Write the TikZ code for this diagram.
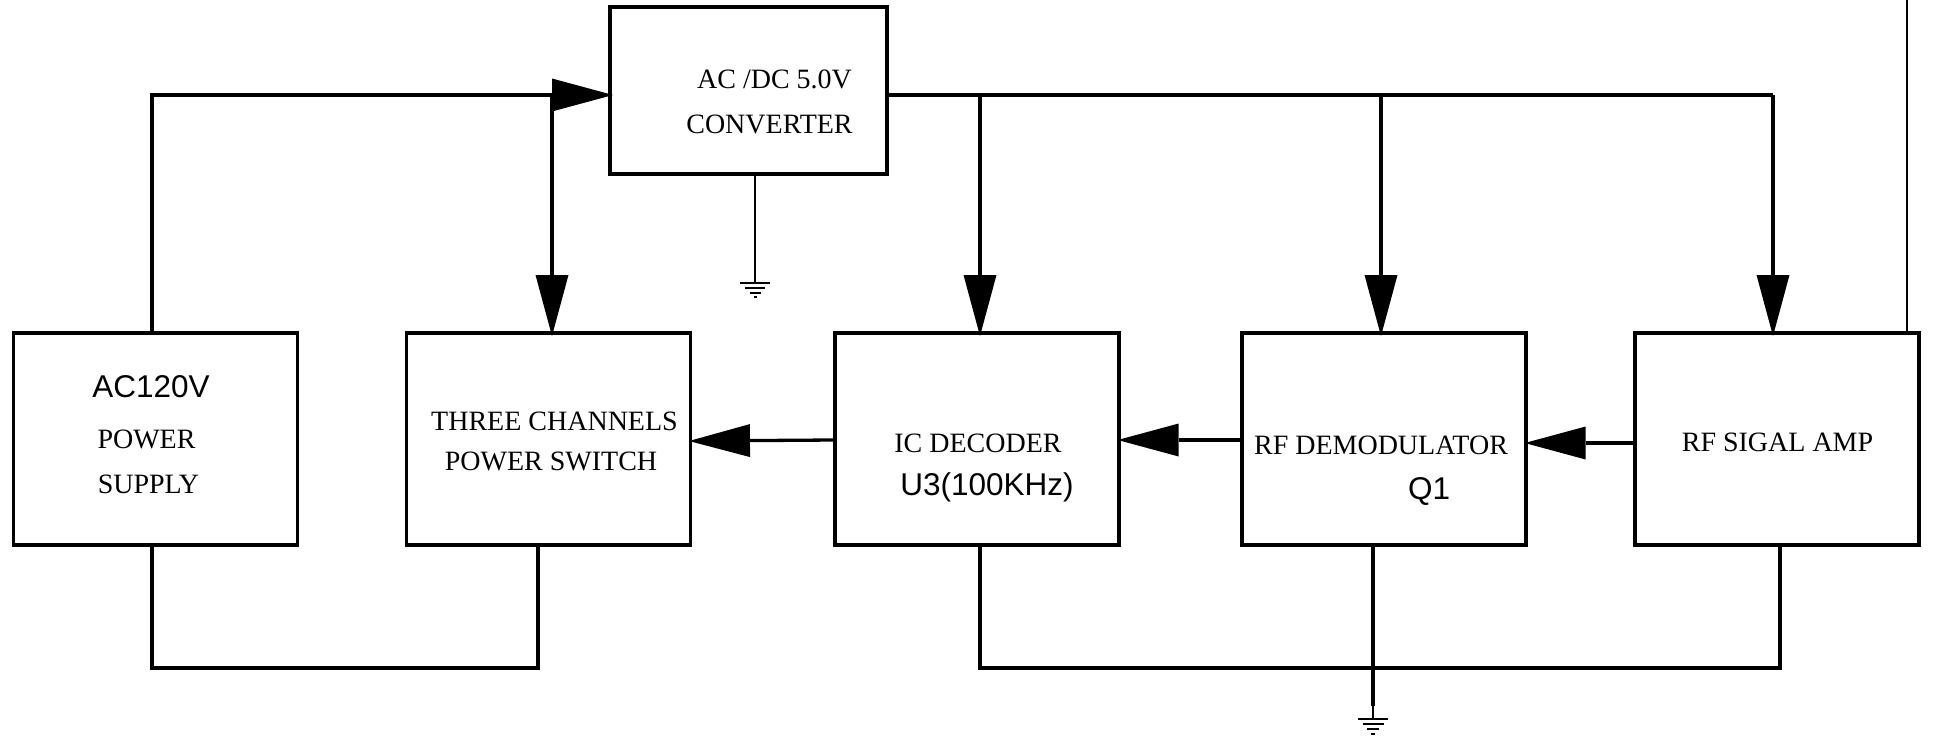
\documentclass[tikz,border=0pt]{standalone}
\usepackage{fontspec}
\setmainfont{Liberation Serif}
\newfontfamily\arialf{Liberation Sans}
\usetikzlibrary{arrows.meta}
\begin{document}
\begin{tikzpicture}[x=1pt,y=-1pt,
  blk/.style={draw,line width=3.3pt,minimum width=284pt,minimum height=212pt,inner sep=0pt,anchor=center},
  wire/.style={line width=3.3pt},
  arr/.style={wire,shorten >=-3pt,-{Triangle[length=61pt,width=33pt,line width=0pt]}},
  lbl/.style={font=\fontsize{28}{30}\selectfont,inner sep=0pt,anchor=base},
  slbl/.style={font=\arialf\fontsize{31.5}{34}\selectfont,inner sep=0pt,anchor=base},
  gnd/.style={line width=1.2pt},
  thin/.style={line width=1.3pt}]
\useasboundingbox[fill=white] (0,0) rectangle (1933,736);

% blocks
\node[blk,minimum width=277pt,minimum height=167pt] (conv) at (748.5,90.5) {};
\node[blk] (ac)  at (155.5,439) {};
\node[blk] (sw)  at (548.3,439) {};
\node[blk] (dec) at (977,439) {};
\node[blk] (dem) at (1384,439) {};
\node[blk] (amp) at (1777,439) {};

% labels
\node[lbl] (t1) at (774.5,88) {AC /DC 5.0V};
\node[lbl] (t2) at (769.5,133) {CONVERTER};
\node[slbl] (t3) at (151,397) {AC120V};
\node[lbl] (t4) at (146.5,448) {POWER};
\node[lbl] (t5) at (148.5,493) {SUPPLY};
\node[lbl] (t6) at (554.5,430) {THREE CHANNELS};
\node[lbl] (t7) at (551,470) {POWER SWITCH};
\node[lbl] (t8) at (978,452) {IC DECODER};
\node[slbl] (t9) at (987,495) {U3(100KHz)};
\node[lbl] (t10) at (1381,454) {RF DEMODULATOR};
\node[slbl] (t11) at (1429,499) {Q1};
\node[lbl] (t12) at (1777.5,451) {RF SIGAL AMP};

% coordinates
\coordinate (acT) at (152,333);
\coordinate (cL) at (610,95);
\coordinate (cR) at (887,95);
\coordinate (swT) at (552,333);
\coordinate (decT) at (980,333);
\coordinate (demT) at (1381,333);
\coordinate (ampT) at (1773,333);
\coordinate (cB) at (755,174);
\coordinate (g1) at (755,270);
\coordinate (g1b) at (755,283);
\coordinate (acB) at (152,545);
\coordinate (swB) at (538,545);
\coordinate (decB) at (980,545);
\coordinate (ampB) at (1780,545);
\coordinate (demB) at (1373,545);
\coordinate (g2) at (1373,706);
\coordinate (g2b) at (1373,719);
\coordinate (tl) at (1907,0);
\coordinate (tlb) at (1907,333);

% top wiring
\draw[arr] (acT) |- (cL);
\draw[arr] (swT |- cL) -- (swT);
\draw[wire] (cR) -- (ampT |- cR);
\draw[arr] (decT |- cR) -- (decT);
\draw[arr] (demT |- cR) -- (demT);
\draw[arr] (ampT |- cR) -- (ampT);

% signal arrows
\draw[arr] (dec.west |- 0,440) -- (sw.east |- 0,441);
\draw[arr] (dem.west |- 0,440) -- (dec.east |- 0,440);
\draw[arr] (amp.west |- 0,443) -- (dem.east |- 0,443);

% bottom wiring
\draw[wire] (acB) -- (acB |- 0,668) -- (swB |- 0,668) -- (swB);
\draw[wire] (decB) -- (decB |- 0,668) -- (ampB |- 0,668) -- (ampB);
\draw[wire] (demB) -- (g2);

% grounds
\draw[wire,line width=2.6pt] (cB) -- (g1);
\draw[gnd] (g1) -- (g1b);
\draw[gnd] ([xshift=-15pt]g1b) -- ([xshift=15pt]g1b);
\draw[gnd] ([xshift=-10pt,yshift=-5pt]g1b) -- ([xshift=10pt,yshift=-5pt]g1b);
\draw[gnd] ([xshift=-5.5pt,yshift=-10pt]g1b) -- ([xshift=5.5pt,yshift=-10pt]g1b);
\draw[gnd] ([xshift=-1.5pt,yshift=-14pt]g1b) -- ([xshift=1.5pt,yshift=-14pt]g1b);

\draw[gnd] (g2) -- (g2b);
\draw[gnd] ([xshift=-15pt]g2b) -- ([xshift=15pt]g2b);
\draw[gnd] ([xshift=-10.5pt,yshift=-5pt]g2b) -- ([xshift=10.5pt,yshift=-5pt]g2b);
\draw[gnd] ([xshift=-6pt,yshift=-10pt]g2b) -- ([xshift=6pt,yshift=-10pt]g2b);
\draw[gnd] ([xshift=-2pt,yshift=-15pt]g2b) -- ([xshift=2pt,yshift=-15pt]g2b);

% thin line at right
\draw[thin] (tl) -- (tlb);
\end{tikzpicture}
\end{document}
